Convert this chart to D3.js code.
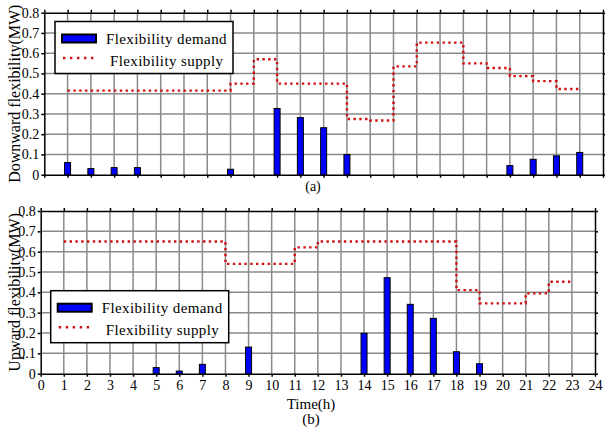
<!DOCTYPE html>
<html>
<head>
<meta charset="utf-8">
<script src="https://cdn.jsdelivr.net/npm/d3@7"></script>
<style>
  body { margin: 0; background: #fff; }
  svg text { font-family: "Liberation Serif", serif !important; fill: #000; }
</style>
</head>
<body>
<div id="chart"></div>
<script>
// tick labels
var xTicks = d3.range(0, 25);
var yTicks = [0, 0.1, 0.2, 0.3, 0.4, 0.5, 0.6, 0.7, 0.8];

// supply is a step curve, one value per hour from 1 to 23
var supplyHours = d3.range(1, 24);

// (a) downward
var downDemandHours = [1, 2, 3, 4, 8, 10, 11, 12, 13, 20, 21, 22, 23];
var downDemand = [0.06, 0.03, 0.035, 0.035, 0.027, 0.327, 0.282, 0.232, 0.1, 0.045, 0.076, 0.093, 0.11];
var downSupply = [0.415, 0.415, 0.415, 0.415, 0.415, 0.415, 0.415, 0.45, 0.57, 0.45, 0.45, 0.45,
    0.275, 0.268, 0.535, 0.652, 0.652, 0.55, 0.527, 0.487, 0.462, 0.423, 0.423];

// (b) upward
var upDemandHours = [5, 6, 7, 9, 14, 15, 16, 17, 18, 19];
var upDemand = [0.03, 0.013, 0.046, 0.131, 0.199, 0.472, 0.341, 0.272, 0.108, 0.049];
var upSupply = [0.65, 0.65, 0.65, 0.65, 0.65, 0.65, 0.65, 0.54, 0.54, 0.54, 0.621,
    0.65, 0.65, 0.65, 0.65, 0.65, 0.65, 0.411, 0.346, 0.346, 0.395, 0.452, 0.452];

var FONT = "Liberation Serif";

var svg = d3.select("#chart").append("svg")
    .attr("width", 605)
    .attr("height", 427)
    .attr("font-family", FONT);

function panel(opt) {
    var x = d3.scaleLinear().domain([0, 24]).range([opt.left, opt.right]);
    var y = d3.scaleLinear().domain([0, 0.8]).range([opt.bottom, opt.top]);
    var g = svg.append("g");

    // grid
    g.append("g").selectAll("line")
        .data(xTicks.slice(1, -1)).enter().append("line")
        .attr("x1", function (d) { return x(d); }).attr("x2", function (d) { return x(d); })
        .attr("y1", opt.top).attr("y2", opt.bottom)
        .attr("stroke", "#8a8a8a").attr("stroke-width", 1.5);
    g.append("g").selectAll("line")
        .data(yTicks.slice(1, -1)).enter().append("line")
        .attr("y1", function (d) { return y(d); }).attr("y2", function (d) { return y(d); })
        .attr("x1", opt.left).attr("x2", opt.right)
        .attr("stroke", "#8a8a8a").attr("stroke-width", 1.5);

    // axes, ticks outside on all four sides
    var bottomAxis = d3.axisBottom(x).tickValues(xTicks).tickSizeInner(3).tickSizeOuter(0).tickPadding(3);
    if (!opt.xLabels) bottomAxis.tickFormat("");
    var ax = g.append("g").attr("transform", "translate(0," + opt.bottom + ")").call(bottomAxis);
    var at = g.append("g").attr("transform", "translate(0," + opt.top + ")")
        .call(d3.axisTop(x).tickValues(xTicks).tickSizeInner(3).tickSizeOuter(0).tickFormat(""));
    var al = g.append("g").attr("transform", "translate(" + opt.left + ",0)")
        .call(d3.axisLeft(y).tickValues(yTicks).tickSizeInner(3).tickSizeOuter(0).tickPadding(2)
            .tickFormat(function (d) { return d === 0 ? "0" : d3.format(".1f")(d); }));
    var ar = g.append("g").attr("transform", "translate(" + opt.right + ",0)")
        .call(d3.axisRight(y).tickValues(yTicks).tickSizeInner(3).tickSizeOuter(0).tickFormat(""));
    [ax, at, al, ar].forEach(function (a) {
        a.attr("font-family", FONT).attr("font-size", 14);
        a.select(".domain").attr("stroke", "#000").attr("stroke-width", 1.5);
        a.selectAll(".tick line").attr("stroke", "#000").attr("stroke-width", 1.5);
        a.selectAll("text").attr("fill", "#000");
    });

    // y title
    g.append("text")
        .attr("transform", "translate(" + opt.titleX + "," + ((opt.top + opt.bottom) / 2) + ") rotate(-90)")
        .attr("text-anchor", "middle")
        .attr("dy", "0.35em")
        .attr("font-size", 16)
        .text(opt.yTitle);

    // supply step line
    var line = d3.line()
        .x(function (d, i) { return x(supplyHours[i]); })
        .y(function (d) { return y(d); })
        .curve(d3.curveStepAfter);
    g.append("path")
        .datum(opt.supply)
        .attr("d", line)
        .attr("fill", "none")
        .attr("stroke", "#d01010")
        .attr("stroke-width", 2.4)
        .attr("stroke-dasharray", "2.4,3.4");

    // demand bars
    var bw = 6;
    g.selectAll(".bar")
        .data(opt.demand).enter().append("rect")
        .attr("class", "bar")
        .attr("x", function (d, i) { return x(opt.demandHours[i]) - bw / 2; })
        .attr("y", function (d) { return y(d); })
        .attr("width", bw)
        .attr("height", function (d) { return opt.bottom - y(d); })
        .attr("fill", "#0000ff")
        .attr("stroke", "#000")
        .attr("stroke-width", 1);

    // legend
    var lg = g.append("g").attr("transform", "translate(" + opt.legend[0] + "," + opt.legend[1] + ")");
    lg.append("rect").attr("width", 178).attr("height", 52)
        .attr("fill", "#fff").attr("stroke", "#000").attr("stroke-width", 1.5);
    lg.append("rect").attr("x", 7).attr("y", 13).attr("width", 34).attr("height", 8)
        .attr("fill", "#0000ff").attr("stroke", "#000").attr("stroke-width", 2);
    lg.append("text").attr("x", 51).attr("y", 22).attr("font-size", 15)
        .attr("letter-spacing", 0.4).text("Flexibility demand");
    lg.append("line").attr("x1", 8).attr("x2", 42).attr("y1", 36.5).attr("y2", 36.5)
        .attr("stroke", "#d01010").attr("stroke-width", 2.4).attr("stroke-dasharray", "2.4,4.6");
    lg.append("text").attr("x", 55).attr("y", 44).attr("font-size", 15)
        .attr("letter-spacing", 0.4).text("Flexibility supply");
}

panel({
    left: 44.3, right: 603, top: 12.7, bottom: 174.7,
    demandHours: downDemandHours, demand: downDemand, supply: downSupply,
    yTitle: "Downward flexibility(MW)", titleX: 14,
    legend: [55, 21.5], xLabels: false
});
panel({
    left: 40.7, right: 595, top: 211, bottom: 373.7,
    demandHours: upDemandHours, demand: upDemand, supply: upSupply,
    yTitle: "Upward flexibility(MW)", titleX: 14,
    legend: [50.7, 290.7], xLabels: true
});

svg.append("text").attr("x", 313).attr("y", 191).attr("text-anchor", "middle").attr("font-size", 14).text("(a)");
svg.append("text").attr("x", 311).attr("y", 409).attr("text-anchor", "middle").attr("font-size", 15).text("Time(h)");
svg.append("text").attr("x", 311).attr("y", 424).attr("text-anchor", "middle").attr("font-size", 15).text("(b)");
</script>
</body>
</html>
